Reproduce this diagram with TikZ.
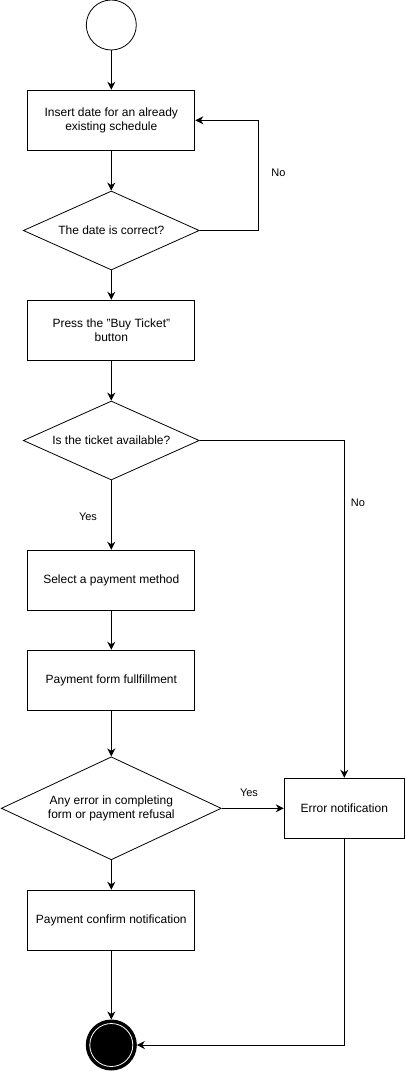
\documentclass[tikz,border=0pt]{standalone}
\usepackage{fontspec}
\setmainfont{Liberation Sans}
\usetikzlibrary{shapes.geometric,arrows.meta}
\begin{document}
\begin{tikzpicture}[x=1pt,y=-1pt,
  box/.style={draw, line width=1pt, minimum width=167pt, minimum height=60pt, align=center, inner sep=0pt, font=\fontsize{12}{14}\selectfont},
  dia/.style={draw, diamond, line width=0.8pt, aspect=2.2, inner sep=0pt, align=center, font=\fontsize{12}{14}\selectfont},
  arr/.style={line width=1pt, -{Stealth[length=8pt,width=8pt,inset=2.5pt]}},
  lne/.style={line width=1pt},
  lbl/.style={font=\fontsize{11}{13}\selectfont, inner sep=0pt}]
\useasboundingbox (0,0) rectangle (405,1071);
\node[draw, circle, line width=0.8pt, minimum size=50pt, inner sep=0pt] (start) at (111.3,25) {};
\node[box] (b1) at (111.3,120.3) {Insert date for an already\\existing schedule};
\node[dia, minimum width=176pt, minimum height=79pt] (d1) at (111.3,230.5) {The date is correct?};
\node[box] (b2) at (111.3,330.3) {Press the "Buy Ticket"\\button};
\node[dia, minimum width=176pt, minimum height=79pt] (d2) at (111.3,440.5) {Is the ticket available?};
\node[box] (b3) at (111.3,580.3) {Select a payment method};
\node[box] (b4) at (111.3,680.3) {Payment form fullfillment};
\node[dia, minimum width=220pt, minimum height=103pt] (d3) at (111.3,808.3) {Any error in completing\\form or payment refusal};
\node[box, minimum width=120pt] (err) at (344.3,808.3) {Error notification};
\node[box] (b5) at (111.3,920.3) {Payment confirm notification};
\node[circle, fill=black, draw=black, line width=1pt, minimum size=50pt, inner sep=0pt] (end) at (111.3,1045) {};
\node[circle, draw=white, line width=0.8pt, minimum size=43pt, inner sep=0pt] (endin) at (111.3,1045) {};
\coordinate (c1) at (258.3,230.5);
\node[lbl] (no1) at (278.5,172.5) {No};
\node[lbl] (no2) at (358,502.5) {No};
\node[lbl] (yes1) at (88,517) {Yes};
\node[lbl] (yes2) at (249,792.5) {Yes};
\draw[arr] (start) -- (b1);
\draw[arr] (b1) -- (d1);
\draw[arr] (d1.east) -- (c1) |- (b1.east);
\draw[arr] (d1) -- (b2);
\draw[arr] (b2) -- (d2);
\draw[arr] (d2) -- (b3);
\draw[arr] (d2.east) -| (err.north);
\draw[arr] (b3) -- (b4);
\draw[arr] (b4) -- (d3);
\draw[arr] (d3) -- (err);
\draw[arr] (d3) -- (b5);
\draw[arr] (b5) -- (end);
\draw[arr] (err.south) |- (end.east);
\end{tikzpicture}
\end{document}
